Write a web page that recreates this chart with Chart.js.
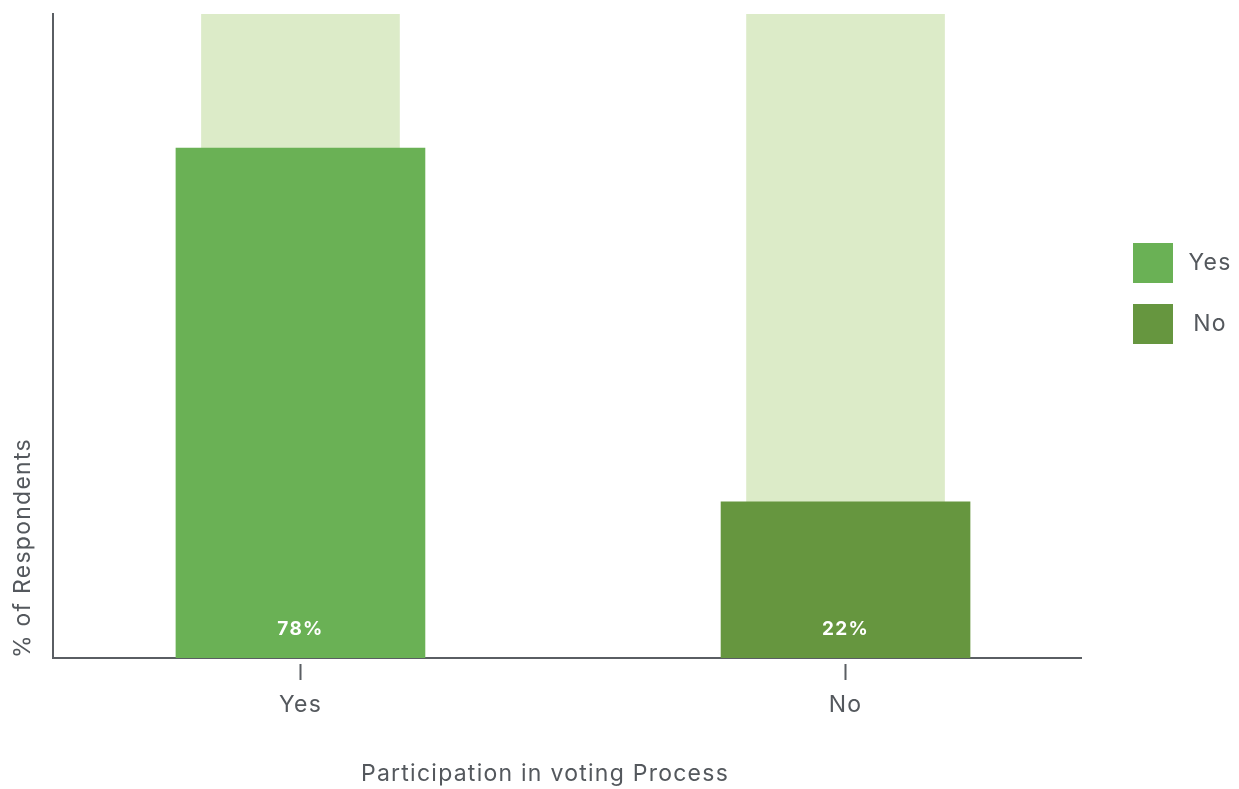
<!DOCTYPE html>
<html>
<head>
<meta charset="utf-8">
<script src="https://cdn.jsdelivr.net/npm/chart.js@4"></script>
<style>
  html, body { margin: 0; padding: 0; background: #ffffff; }
  #wrap { position: relative; width: 1239px; height: 789px; font-family: Inter, "Open Sans", sans-serif; color: #54585d; letter-spacing: 1.25px; }
  #c { position: absolute; left: 0; top: 0; }
  .xtitle { position: absolute; top: 759px; left: 295px; width: 500px; text-align: center; font-size: 23px; line-height: 28px; }
  .legend { position: absolute; left: 1133px; top: 243px; }
  .item { position: relative; height: 40px; margin-bottom: 21px; }
  .box { position: absolute; left: 0; top: 0; width: 40px; height: 40px; }
  .lbl { position: absolute; left: 46px; width: 62px; top: 5px; text-align: center; font-size: 23px; line-height: 28px; }
</style>
</head>
<body>
<div id="wrap">
  <canvas id="c" width="1239" height="789"></canvas>
  <div class="xtitle" id="xtitle"></div>
  <div class="legend" id="legend"></div>
</div>
<script>
const categories = ['Yes', 'No'];
const respondentShare = [78, 22];
const fullShare = [100, 100];
const valueLabels = ['78%', '22%'];
const barColors = ['#6ab155', '#66963f'];
const bgColor = '#dcebc8';
const xTitle = 'Participation in voting Process';
const yTitle = '% of Respondents';

const Y_MIN = -2.7, Y_MAX = 99.2;
const X_MIN = -0.454, X_MAX = 1.432;
const textColor = '#54585d';
const axisColor = '#5a5e63';
const FONT = 'Inter, "Open Sans", sans-serif';

document.getElementById('xtitle').textContent = xTitle;
const legendEl = document.getElementById('legend');
categories.forEach((c, i) => {
  const it = document.createElement('div'); it.className = 'item';
  const b = document.createElement('div'); b.className = 'box'; b.style.background = barColors[i];
  const l = document.createElement('div'); l.className = 'lbl'; l.textContent = c;
  it.appendChild(b); it.appendChild(l); legendEl.appendChild(it);
});

const spacingPlugin = {
  id: 'spacing',
  beforeDraw(chart) { chart.ctx.letterSpacing = '1.25px'; }
};

const valueLabelPlugin = {
  id: 'valueLabels',
  afterDatasetsDraw(chart) {
    const meta = chart.getDatasetMeta(0);
    const ctx = chart.ctx;
    ctx.save();
    ctx.fillStyle = '#ffffff';
    ctx.font = 'bold 19px ' + FONT;
    ctx.textAlign = 'center';
    ctx.textBaseline = 'middle';
    meta.data.forEach((bar, i) => {
      ctx.fillText(valueLabels[i], bar.x, chart.chartArea.bottom - 29);
    });
    ctx.restore();
  }
};

new Chart(document.getElementById('c'), {
  type: 'bar',
  data: {
    datasets: [
      {
        label: 'share',
        data: respondentShare.map((v, i) => ({ x: i, y: v })),
        backgroundColor: barColors,
        barThickness: 249,
        base: Y_MIN,
        order: 1
      },
      {
        label: 'total',
        data: fullShare.map((v, i) => ({ x: i, y: v })),
        backgroundColor: bgColor,
        barThickness: 198,
        base: Y_MIN,
        order: 2
      }
    ]
  },
  options: {
    responsive: false,
    animation: false,
    events: [],
    layout: { padding: { top: 14, right: 158, left: 0, bottom: 0 } },
    plugins: { legend: { display: false }, tooltip: { enabled: false } },
    datasets: { bar: { grouped: false } },
    scales: {
      x: {
        type: 'linear',
        min: X_MIN, max: X_MAX,
        offset: false,
        afterBuildTicks: s => { s.ticks = categories.map((c, i) => ({ value: i })); },
        afterFit: s => { s.height = 131; },
        ticks: {
          callback: v => categories[v] ?? '',
          color: textColor,
          font: { family: FONT, size: 23 },
          padding: 11,
          maxRotation: 0
        },
        grid: {
          display: true,
          offset: false,
          drawOnChartArea: false,
          drawTicks: true,
          tickLength: 22,
          tickWidth: 2,
          tickColor: axisColor,
          tickBorderDash: [0, 5, 16, 100]
        },
        border: { display: true, color: axisColor, width: 2 }
      },
      y: {
        min: Y_MIN, max: Y_MAX,
        afterFit: s => { s.width = 53; },
        ticks: { display: false },
        grid: { display: false, drawTicks: false },
        border: { display: true, color: axisColor, width: 2 },
        title: {
          display: true,
          text: yTitle,
          align: 'start',
          color: textColor,
          font: { family: FONT, size: 23 },
          padding: { top: 9, bottom: 0 }
        }
      }
    }
  },
  plugins: [spacingPlugin, valueLabelPlugin]
});
</script>
</body>
</html>
